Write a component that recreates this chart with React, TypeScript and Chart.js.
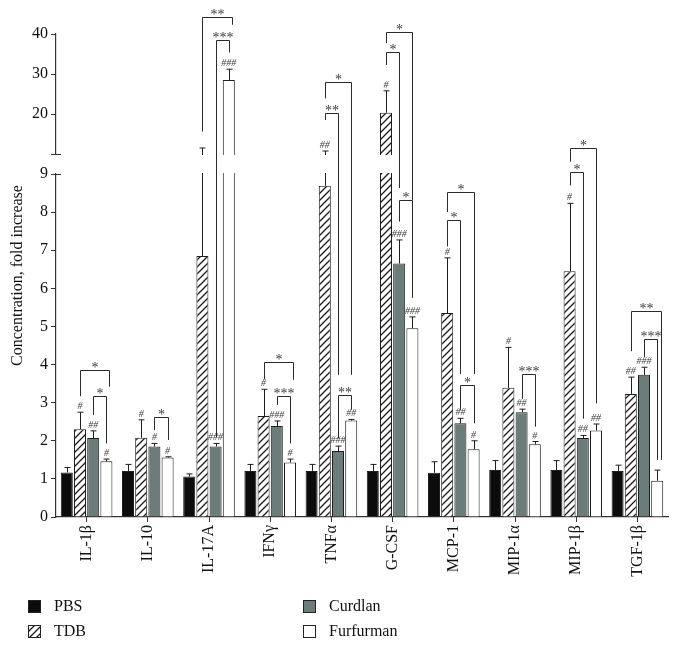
import React, { useEffect, useRef } from 'react';
import { Chart, registerables, LinearScale } from 'chart.js';

Chart.register(...registerables);

// ---------------- data ----------------
const CATEGORIES = ['IL-1β', 'IL-10', 'IL-17A', 'IFNγ', 'TNFα', 'G-CSF', 'MCP-1', 'MIP-1α', 'MIP-1β', 'TGF-1β'];
const SERIES = ['PBS', 'TDB', 'Curdlan', 'Furfurman'];

const PBS = [1.17, 1.21, 1.06, 1.21, 1.21, 1.21, 1.16, 1.23, 1.23, 1.21];
const PBS_ERR = [0.13, 0.17, 0.07, 0.17, 0.17, 0.17, 0.29, 0.25, 0.25, 0.15];
const TDB = [2.3, 2.08, 6.85, 2.65, 8.69, 20.3, 5.35, 3.39, 6.45, 3.23];
const TDB_ERR = [0.45, 0.47, 4.65, 0.7, 2.06, 5.5, 1.45, 1.06, 1.78, 0.44];
const CURDLAN = [2.07, 1.85, 1.85, 2.39, 1.73, 6.65, 2.46, 2.75, 2.07, 3.73];
const CURDLAN_ERR = [0.19, 0.08, 0.08, 0.13, 0.13, 0.62, 0.13, 0.08, 0.07, 0.2];
const FURFURMAN = [1.46, 1.56, 28.5, 1.43, 2.53, 4.95, 1.78, 1.91, 2.27, 0.95];
const FURFURMAN_ERR = [0.06, 0.02, 2.7, 0.09, 0.03, 0.3, 0.22, 0.07, 0.17, 0.28];

// significance marks vs PBS (#)
const PBS_SIG = ['', '', '', '', '', '', '', '', '', ''];
const TDB_SIG = ['#', '#', '', '#', '##', '#', '#', '#', '#', '##'];
const CURDLAN_SIG = ['##', '#', '###', '###', '###', '###', '##', '##', '##', '###'];
const FURFURMAN_SIG = ['#', '#', '###', '#', '##', '###', '#', '#', '##', ''];

// brackets: [category, from series, to series, bracket height, left leg end, right leg end, label]
const BRACKETS: [number, number, number, number, number, number, string][] = [
  [0, 1, 3.2, 3.86, 3.17, 3.42, '*'],
  [0, 2, 3, 3.17, 2.68, 1.93, '*'],
  [1, 2, 3, 2.62, 2.28, 2.02, '*'],
  [2, 2, 3, 38.5, 2.1, 35.4, '***'],
  [2, 1, 3.25, 44.3, 15.6, 42.3, '**'],
  [3, 2, 3, 3.18, 2.94, 1.93, '***'],
  [3, 1, 3.2, 4.06, 3.61, 3.6, '*'],
  [4, 1, 2, 20.2, 18.5, 3.73, '**'],
  [4, 1, 3, 28.1, 23.9, 3.73, '*'],
  [4, 2, 3, 3.2, 2.07, 2.81, '**'],
  [5, 1, 3, 40.6, 37.7, 8.32, '*'],
  [5, 1, 2, 35.6, 32.25, 8.63, '*'],
  [5, 2, 3, 8.32, 7.75, 5.75, '*'],
  [6, 1, 3, 8.53, 8.0, 3.75, '*'],
  [6, 1, 2, 7.8, 7.1, 3.75, '*'],
  [6, 2, 3, 3.46, 2.81, 2.46, '*'],
  [7, 2, 3, 3.75, 3.1, 2.37, '***'],
  [8, 1, 3, 11.6, 9.62, 2.98, '*'],
  [8, 1, 2, 9.1, 8.7, 2.58, '*'],
  [9, 1, 3.3, 5.41, 4.35, 1.5, '**'],
  [9, 2, 3, 4.67, 4.2, 1.5, '***'],
];

const Y_TICKS = [0, 1, 2, 3, 4, 5, 6, 7, 8, 9, 10, 20, 30, 40];
const BREAK_LOW = 9;
const BREAK_HIGH = 10;
const AXIS_MAX = 40;

// --------------- broken linear scale ---------------
const LOWER_FRAC = 343 / 483;
const GAP_FRAC = 20 / 483;

class BrokenScale extends LinearScale {
  static id = 'broken';
  static defaults = {};
  buildTicks() {
    return Y_TICKS.map((v) => ({ value: v }));
  }
  getPixelForValue(v: number) {
    const h = this.bottom - this.top;
    const lowH = h * LOWER_FRAC;
    const gapH = h * GAP_FRAC;
    const upH = h - lowH - gapH;
    if (v <= BREAK_LOW) return this.bottom - (v / BREAK_LOW) * lowH;
    if (v <= BREAK_HIGH) return this.bottom - lowH - ((v - BREAK_LOW) / (BREAK_HIGH - BREAK_LOW)) * gapH;
    return this.top + upH - ((v - BREAK_HIGH) / (AXIS_MAX - BREAK_HIGH)) * upH;
  }
  getValueForPixel(p: number) {
    const h = this.bottom - this.top;
    const lowH = h * LOWER_FRAC;
    const gapH = h * GAP_FRAC;
    const upH = h - lowH - gapH;
    const d = this.bottom - p;
    if (d <= lowH) return (d / lowH) * BREAK_LOW;
    if (d <= lowH + gapH) return BREAK_LOW + ((d - lowH) / gapH) * (BREAK_HIGH - BREAK_LOW);
    return BREAK_HIGH + ((d - lowH - gapH) / upH) * (AXIS_MAX - BREAK_HIGH);
  }
}
Chart.register(BrokenScale as any);

function makeHatch(): CanvasPattern | string {
  const c = document.createElement('canvas');
  const n = 7;
  c.width = n;
  c.height = n;
  const g = c.getContext('2d');
  if (!g) return '#aaa';
  g.fillStyle = '#ffffff';
  g.fillRect(0, 0, n, n);
  g.strokeStyle = '#1a1a1a';
  g.lineWidth = 1.3;
  g.beginPath();
  g.moveTo(-1, n + 1);
  g.lineTo(n + 1, -1);
  g.moveTo(-1, 1);
  g.lineTo(1, -1);
  g.moveTo(n - 1, n + 1);
  g.lineTo(n + 1, n - 1);
  g.stroke();
  return g.createPattern(c, 'repeat') || '#aaa';
}

const SERIF = "'Liberation Serif', 'DejaVu Serif', serif";

export default function App() {
  const ref = useRef<HTMLCanvasElement | null>(null);

  useEffect(() => {
    if (!ref.current) return;
    const hatch = makeHatch();
    const values = [PBS, TDB, CURDLAN, FURFURMAN];
    const errs = [PBS_ERR, TDB_ERR, CURDLAN_ERR, FURFURMAN_ERR];
    const sigs = [PBS_SIG, TDB_SIG, CURDLAN_SIG, FURFURMAN_SIG];
    const fills: (string | CanvasPattern)[] = ['#0c0c0c', hatch, '#6c7c7a', '#ffffff'];

    const overlay = {
      id: 'overlay',
      afterDatasetsDraw(chart: any) {
        const ctx: CanvasRenderingContext2D = chart.ctx;
        const y = chart.scales.y;
        const area = chart.chartArea;
        const bar = (cat: number, s: number) => chart.getDatasetMeta(s).data[cat];
        const xOf = (cat: number, s: number) => {
          const f = Math.floor(s);
          const b: any = bar(cat, Math.min(f, 3));
          return b.x + (s - f) * (b.width / 0.91);
        };
        ctx.save();
        // error bars
        ctx.strokeStyle = '#1e1e1e';
        ctx.lineWidth = 1;
        for (let s = 0; s < 4; s++) {
          for (let c = 0; c < CATEGORIES.length; c++) {
            const b: any = bar(c, s);
            const top = y.getPixelForValue(values[s][c] + errs[s][c]);
            const x = Math.round(b.x) + 0.5;
            ctx.beginPath();
            ctx.moveTo(x, b.y);
            ctx.lineTo(x, top);
            ctx.moveTo(x - 3, top);
            ctx.lineTo(x + 3, top);
            ctx.stroke();
          }
        }
        // axis break gap
        const y10 = y.getPixelForValue(BREAK_HIGH);
        const y9 = y.getPixelForValue(BREAK_LOW);
        ctx.fillStyle = '#ffffff';
        ctx.fillRect(area.left - 6, y10 + 1, area.right - area.left + 10, y9 - y10 - 2);
        ctx.strokeStyle = '#333';
        ctx.lineWidth = 1.2;
        ctx.beginPath();
        ctx.moveTo(area.left - 5, Math.round(y10) + 0.5);
        ctx.lineTo(area.left + 5, Math.round(y10) + 0.5);
        ctx.moveTo(area.left - 5, Math.round(y9) + 0.5);
        ctx.lineTo(area.left + 5, Math.round(y9) + 0.5);
        ctx.stroke();
        // # marks
        ctx.fillStyle = '#3a3a3a';
        ctx.font = `italic 10px ${SERIF}`;
        ctx.textAlign = 'center';
        ctx.textBaseline = 'alphabetic';
        for (let s = 0; s < 4; s++) {
          for (let c = 0; c < CATEGORIES.length; c++) {
            const t = sigs[s][c];
            if (!t) continue;
            const b: any = bar(c, s);
            const top = y.getPixelForValue(values[s][c] + errs[s][c]);
            ctx.fillText(t, b.x, top - 3);
          }
        }
        // brackets
        ctx.strokeStyle = '#2a2a2a';
        ctx.lineWidth = 1;
        ctx.font = `14px ${SERIF}`;
        for (const [c, s1, s2, h, l1, l2, lab] of BRACKETS) {
          const x1 = Math.round(xOf(c, s1)) + 0.5;
          const x2 = Math.round(xOf(c, s2)) + 0.5;
          const yh = Math.round(y.getPixelForValue(h)) + 0.5;
          ctx.beginPath();
          ctx.moveTo(x1, y.getPixelForValue(l1));
          ctx.lineTo(x1, yh);
          ctx.lineTo(x2, yh);
          ctx.lineTo(x2, y.getPixelForValue(l2));
          ctx.stroke();
          ctx.fillText(lab, (x1 + x2) / 2, yh + 1);
        }
        // legend
        const pos = [
          [20, 592],
          [20, 617],
          [295, 592],
          [295, 617],
        ];
        ctx.font = `16px ${SERIF}`;
        ctx.textAlign = 'left';
        ctx.textBaseline = 'middle';
        for (let s = 0; s < 4; s++) {
          const [lx, ly] = pos[s];
          ctx.fillStyle = fills[s] as any;
          ctx.fillRect(lx, ly, 13, 13);
          ctx.strokeStyle = '#222';
          ctx.lineWidth = 1;
          ctx.strokeRect(lx + 0.5, ly + 0.5, 12, 12);
          ctx.fillStyle = '#111';
          ctx.fillText(SERIES[s], lx + 26, ly + 7);
        }
        ctx.restore();
      },
    };

    const chart = new Chart(ref.current, {
      type: 'bar',
      data: {
        labels: CATEGORIES,
        datasets: SERIES.map((name, s) => ({
          label: name,
          data: values[s],
          backgroundColor: fills[s] as any,
          borderColor: '#1e1e1e',
          borderWidth: 1,
          inflateAmount: 0,
          categoryPercentage: 0.863,
          barPercentage: 0.91,
        })),
      },
      options: {
        responsive: false,
        animation: false,
        events: [],
        layout: { padding: { top: 26, right: 3, left: 0, bottom: 0 } },
        plugins: { legend: { display: false }, tooltip: { enabled: false } },
        scales: {
          x: {
            type: 'category',
            grid: { offset: false, drawOnChartArea: false, tickLength: 5, color: '#333' },
            border: { color: '#333', width: 1.2 },
            ticks: {
              minRotation: 90,
              maxRotation: 90,
              autoSkip: false,
              padding: 3,
              color: '#111',
              font: { family: SERIF, size: 16 },
            },
            afterFit: (s: any) => {
              s.height = 124;
            },
          },
          y: {
            type: 'broken' as any,
            min: 0,
            max: 40,
            grid: { drawOnChartArea: false, tickLength: 5, color: '#333' },
            border: { color: '#333', width: 1.2 },
            ticks: {
              autoSkip: false,
              padding: 3,
              color: '#111',
              font: { family: SERIF, size: 16 },
              callback: (v: any) => (v === BREAK_HIGH ? '' : String(v)),
            },
            title: {
              display: true,
              text: 'Concentration, fold increase',
              color: '#111',
              font: { family: SERIF, size: 16 },
              padding: { top: 0, bottom: 0 },
            },
            afterFit: (s: any) => {
              s.width = 48;
            },
          } as any,
        },
      },
      plugins: [overlay],
    });
    return () => chart.destroy();
  }, []);

  return <canvas ref={ref} width={663} height={633} style={{ display: 'block' }} />;
}
